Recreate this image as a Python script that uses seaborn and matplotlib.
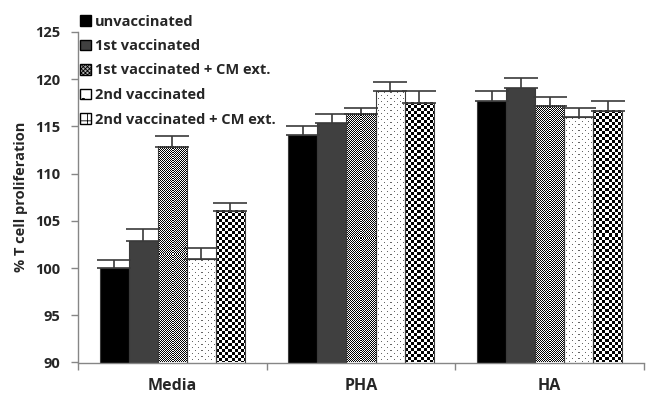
import numpy as np
import pandas as pd
import seaborn as sns
import matplotlib.pyplot as plt
from matplotlib.patches import Patch

categories = ["Media", "PHA", "HA"]
groups = ["unvaccinated", "1st vaccinated", "1st vaccinated + CM ext.",
          "2nd vaccinated", "2nd vaccinated + CM ext."]

# mean values per group, in category order
unvaccinated = [100.0, 114.1, 117.7]
first_vacc = [102.9, 115.4, 119.1]
first_vacc_cm = [112.8, 116.3, 117.2]
second_vacc = [101.0, 118.8, 116.0]
second_vacc_cm = [106.0, 117.5, 116.6]

# upper error (SE)
err_unvaccinated = [0.9, 0.9, 1.1]
err_first_vacc = [1.2, 0.9, 1.0]
err_first_vacc_cm = [1.2, 0.7, 0.9]
err_second_vacc = [1.1, 0.9, 1.0]
err_second_vacc_cm = [0.9, 1.2, 1.1]

values = [unvaccinated, first_vacc, first_vacc_cm, second_vacc, second_vacc_cm]
errors = [err_unvaccinated, err_first_vacc, err_first_vacc_cm,
          err_second_vacc, err_second_vacc_cm]

df = pd.DataFrame({
    "category": [c for _ in groups for c in categories],
    "group": [g for g in groups for _ in categories],
    "value": [v for vals in values for v in vals],
})

sns.set_style("white")
plt.rcParams['font.family'] = ['Open Sans', 'DejaVu Sans']
plt.rcParams['font.weight'] = 'bold'
plt.rcParams['hatch.linewidth'] = 0.6

fig = plt.figure(figsize=(6.52, 3.94), dpi=100)
ax = fig.add_axes([78 / 652, 1 - 362.5 / 394, (644 - 78) / 652, (362.5 - 32) / 394])

YMIN, YMAX = 90, 125
face = ["#000000", "#404040", "none", "none", "none"]
sns.barplot(data=df, x="category", y="value", hue="group", order=categories,
            hue_order=groups, palette=["#000000"] * 5, width=0.77, gap=0,
            errorbar=None, legend=False, ax=ax)

ax.set_ylim(YMIN, YMAX)
ax.set_xlim(-0.5, 2.5)
fig.canvas.draw()


def pattern_fill(bar, kind):
    x0 = bar.get_x()
    x1 = x0 + bar.get_width()
    y0 = max(bar.get_y(), YMIN)
    y1 = bar.get_y() + bar.get_height()
    p0 = ax.transData.transform((x0, y0))
    p1 = ax.transData.transform((x1, y1))
    w = max(int(round(abs(p1[0] - p0[0]))), 1)
    h = max(int(round(abs(p1[1] - p0[1]))), 1)
    yy, xx = np.mgrid[0:h, 0:w]
    if kind == "fine":
        mask = ((xx + yy) % 2 == 0)
        img = np.where(mask, 0.0, 1.0)
    elif kind == "coarse":
        mask = ((xx // 3 + yy // 3) % 2 == 0)
        img = np.where(mask, 0.0, 1.0)
    else:
        mask = ((xx % 6 == 2) & (yy % 6 == 2)) | ((xx % 6 == 5) & (yy % 6 == 5))
        img = np.where(mask, 0.4, 1.0)
    ax.imshow(img, cmap="gray", vmin=0, vmax=1, interpolation="nearest",
              extent=(x0, x1, y0, y1), aspect="auto", zorder=0.9)


kinds = [None, None, "fine", "dots", "coarse"]
bar_containers = list(ax.containers)
for i, cont in enumerate(bar_containers):
    for j, bar in enumerate(cont.patches):
        bar.set_edgecolor("#3a3a3a")
        bar.set_linewidth(0.8)
        if kinds[i] is None:
            bar.set_facecolor(face[i])
        else:
            bar.set_facecolor((0, 0, 0, 0))
            pattern_fill(bar, kinds[i])
        xc = bar.get_x() + bar.get_width() / 2
        top = bar.get_height()
        ax.errorbar([xc], [top], yerr=[[0], [errors[i][j]]], fmt="none",
                    ecolor="#3a3a3a", elinewidth=1.2, capsize=12.5,
                    capthick=1.2, zorder=3)

ax.set_ylim(YMIN, YMAX)
ax.set_xlim(-0.5, 2.5)
ax.set_yticks(np.arange(90, 126, 5))
ax.set_xticks([0, 1, 2])
ax.set_xticks([-0.5, 0.5, 1.5, 2.5], minor=True)
ax.tick_params(axis="x", which="major", length=0, pad=11, labelsize=11.5)
ax.tick_params(axis="x", which="minor", length=5, direction="out",
               color="#868686", width=1, bottom=True)
ax.tick_params(axis="y", length=5, direction="out", color="#868686",
               width=1, pad=8, labelsize=10.5, left=True)
for lab in ax.get_xticklabels() + ax.get_yticklabels():
    lab.set_fontweight("bold")
ax.set_xlabel("")
ax.set_ylabel("% T cell proliferation", fontsize=10.5, fontweight="bold",
              labelpad=5)

for s in ["top", "right"]:
    ax.spines[s].set_visible(False)
for s in ["left", "bottom"]:
    ax.spines[s].set_color("#868686")
    ax.spines[s].set_linewidth(1)

handles = [
    Patch(facecolor="#000000", edgecolor="#000000"),
    Patch(facecolor="#404040", edgecolor="#000000"),
    Patch(facecolor="#b0b0b0", edgecolor="#000000", hatch="xxxxxxxx"),
    Patch(facecolor="#ffffff", edgecolor="#000000", hatch="."),
    Patch(facecolor="#ffffff", edgecolor="#000000", hatch="++"),
]
fig.legend(handles, groups, loc="upper left", bbox_to_anchor=(80 / 652, 1 - 14.5 / 394),
           frameon=False, handlelength=0.75, handleheight=0.75,
           handletextpad=0.25, labelspacing=0.72, borderpad=0, borderaxespad=0,
           prop={"weight": "bold", "size": 10.5})

fig.savefig("out.png", dpi=100)
plt.close()
